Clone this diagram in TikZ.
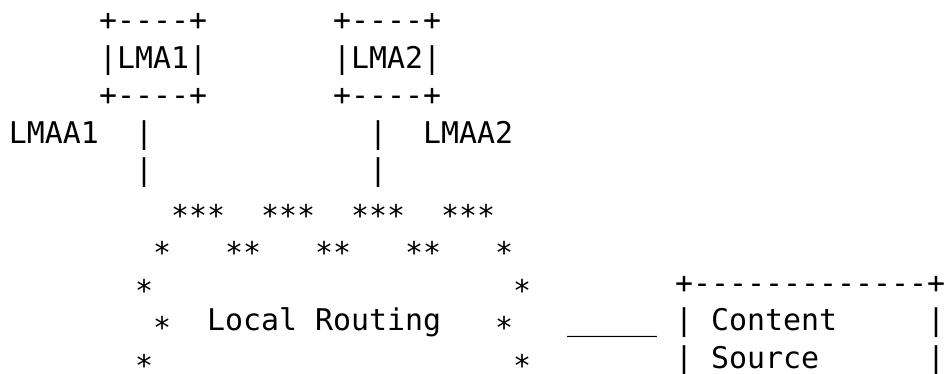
\documentclass[tikz,border=0pt]{standalone}
\usepackage{fontspec}
\setmonofont{DejaVu Sans Mono}
\newcommand\asc[4]{\node[txt] (#1) at ({9+18*#2},{30.5+37.5*#3}) {#4};}
\newcommand\astk{\smash{\raisebox{-8pt}{*}}}
\begin{document}
\begin{tikzpicture}[x=1pt,y=-1pt,
  txt/.style={anchor=base west, inner sep=0pt, outer sep=0pt,
    font=\ttfamily\fontsize{29.9}{37.5}\selectfont}]
\useasboundingbox (0,0) rectangle (944,373);
% LMA boxes
\asc{bxat}{5}{0}{+-{}-{}-{}-+}
\asc{bxbt}{18}{0}{+-{}-{}-{}-+}
\asc{lma1}{5}{1}{|LMA1|}
\asc{lma2}{18}{1}{|LMA2|}
\asc{bxab}{5}{2}{+-{}-{}-{}-+}
\asc{bxbb}{18}{2}{+-{}-{}-{}-+}
% links
\asc{lmaa1}{0}{3}{LMAA1}
\asc{va1}{7}{3}{|}
\asc{vb1}{20}{3}{|}
\asc{lmaa2}{23}{3}{LMAA2}
\asc{va2}{7}{4}{|}
\asc{vb2}{20}{4}{|}
% cloud
\asc{s51}{9}{5}{\astk\astk\astk}
\asc{s52}{14}{5}{\astk\astk\astk}
\asc{s53}{19}{5}{\astk\astk\astk}
\asc{s54}{24}{5}{\astk\astk\astk}
\asc{s61}{8}{6}{\astk}
\asc{s62}{12}{6}{\astk\astk}
\asc{s63}{17}{6}{\astk\astk}
\asc{s64}{22}{6}{\astk\astk}
\asc{s65}{27}{6}{\astk}
\asc{s71}{7}{7}{\astk}
\asc{s72}{28}{7}{\astk}
\asc{s81}{8}{8}{\astk}
\asc{lr}{11}{8}{Local Routing}
\asc{s82}{27}{8}{\astk}
\asc{s91}{7}{9}{\astk}
\asc{s92}{28}{9}{\astk}
% link and content source
\asc{link}{31}{8}{\_\_\_\_\_}
\asc{csbt}{37}{7}{+-{}-{}-{}-{}-{}-{}-{}-{}-{}-{}-{}-{}-+}
\asc{csl1}{37}{8}{|}
\asc{cs1}{39}{8}{Content}
\asc{csr1}{51}{8}{|}
\asc{csl2}{37}{9}{|}
\asc{cs2}{39}{9}{Source}
\asc{csr2}{51}{9}{|}
\end{tikzpicture}
\end{document}
